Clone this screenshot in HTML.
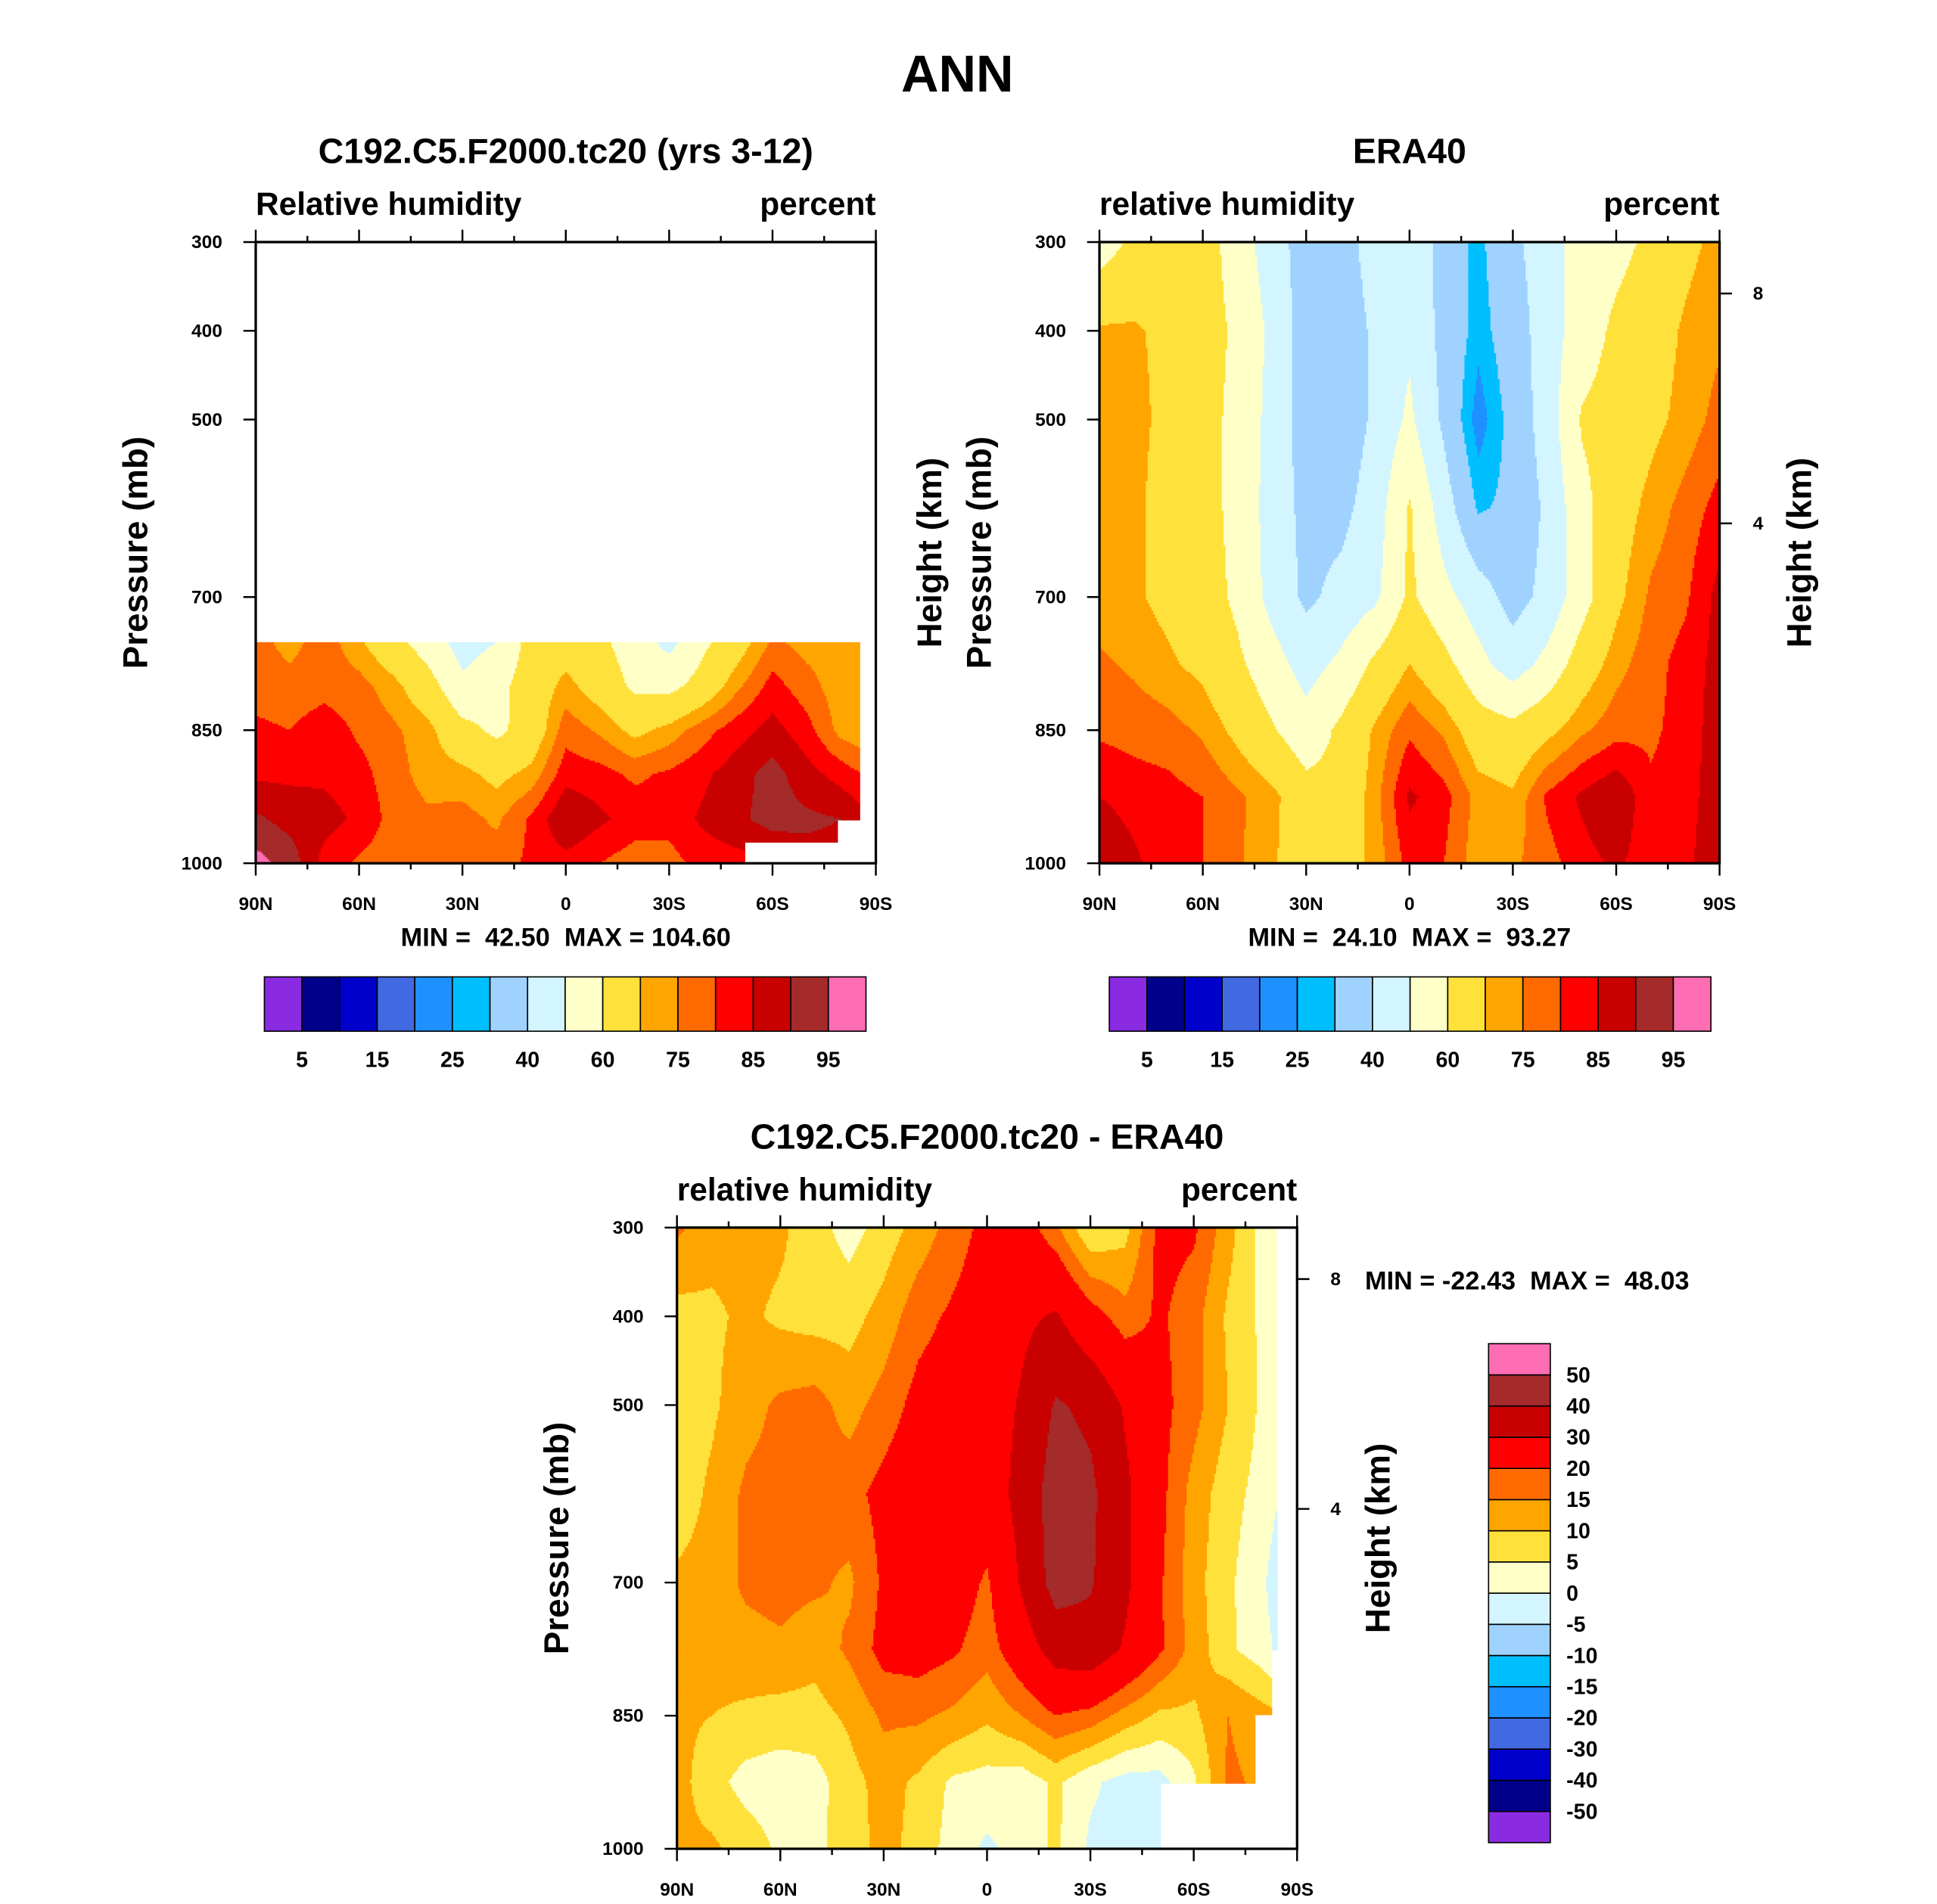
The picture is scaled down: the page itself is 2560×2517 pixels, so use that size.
<!DOCTYPE html>
<html><head><meta charset="utf-8"><style>
html,body{margin:0;padding:0;background:#fff}
svg{display:block}
text{font-family:"Liberation Sans",Arial,sans-serif;font-weight:bold;fill:#000;white-space:pre}
</style></head><body>
<svg id="fig" width="2560" height="2517" viewBox="0 0 1568 1541.7" xmlns="http://www.w3.org/2000/svg" xml:space="preserve">
<text x="775" y="74" font-size="42" text-anchor="middle">ANN</text>
<g id="p1"></g>
<g id="p2"></g>
<g id="p3"></g>
</svg>
<script>
const NS="http://www.w3.org/2000/svg";
const lats=[90,80,70,60,50,40,30,20,10,0,-10,-20,-30,-40,-50,-60,-70,-80,-90];
const xTickLabels=["90N","60N","30N","0","30S","60S","90S"];
const xTickLats=[90,60,30,0,-30,-60,-90];
const pTicks=[300,400,500,700,850,1000];
const hTicks=[8,4];
const hTickP=[358,617];
const absLevels=[5,10,15,20,25,30,40,50,60,70,75,80,85,90,95];
const absLabels=["5","15","25","40","60","75","85","95"];
const diffLevels=[-50,-40,-30,-20,-15,-10,-5,0,5,10,15,20,30,40,50];
const diffLabels=["-50","-40","-30","-20","-15","-10","-5","0","5","10","15","20","30","40","50"];
const colors=["#8a2be2","#00008b","#0000cd","#4169e1","#1e90ff","#00bfff","#a0d2ff","#d2f5ff","#ffffc8","#ffe13c","#ffa500","#ff6a00","#ff0000","#c80000","#a52a2a","#ff6eb4"];
const p1Levels=[750,800,850,900,950,1000];
const p1Vals=[
[77,73,78,71,63,55,46,50,64,66,62,55,47,58,66,76,73,73,72],
[78,77,78,77,72,64,52,57,65,72,66,58,57,64,74,82,77,72,72],
[81,80,83,79,76,72,63,58,64,78,74,68,72,78,83,87,82,73,70],
[84,84,84,82,77,73,72,68,72,83,82,79,81,84,88,92,87,83,78],
[91,88,87,84,78,76,77,74,81,90,86,83,82,86,89,92,91,90,85],
[97,93,83,79,77,76,76,78,81,83,80,77,78,82,83,85,88,88,85]];
const p2Levels=[300,400,500,600,700,775,850,925,1000];
const p2Vals=[
[55,62,65,65,55,45,35,35,45,50,35,28,38,45,55,57,62,68,72],
[71,71,68,65,58,48,35,33,42,48,37,27,35,45,55,62,66,71,74],
[72,72,68,64,57,47,35,33,42,52,38,22,33,45,61,64,68,72,77],
[73,72,66,64,57,46,37,37,45,61,45,29,32,42,57,66,72,77,82],
[72,71,68,65,58,47,38,43,48,62,53,45,36,43,56,68,76,79,87],
[76,74,71,68,62,54,46,52,62,70,63,53,45,53,65,73,78,82,87],
[79,78,77,74,68,61,54,62,71,79,74,65,63,68,74,78,79,82,88],
[85,83,82,80,76,72,64,63,73,86,82,73,71,81,86,90,81,83,88],
[90,86,82,80,76,71,65,65,72,82,80,72,74,78,83,86,82,84,88]];
const p3Levels=[300,400,500,600,700,775,850,925,1000];
const p3Vals=[
[16,12,12,11,7,3,7,12,17,22,24,16,5,8,22,21,12,3,2],
[8,9,11,9,8,8,12,18,21,24,28,31,23,17,21,17,9,4,2],
[7,9,13,16,17,13,17,22,24,25,31,41,38,29,22,17,10,4,0],
[7,11,16,17,17,18,22,25,26,25,33,45,42,32,22,13,7,3,-3],
[11,12,16,17,16,14,21,25,24,19,31,44,41,32,21,12,6,1,-8],
[12,12,13,14,12,16,22,23,21,17,25,34,36,29,21,13,6,2,-5],
[11,10,9,8,8,11,16,16,14,11,15,20,18,13,9,9,15,12,10],
[12,7,3,2,3,8,12,9,4,3,2,6,1,-2,-2,4,16,14,10],
[11,11,8,4,4,7,12,8,3,-1,2,6,-1,-2,0,3,14,14,10]];

function mk(parent,tag,attrs,txt){const e=document.createElementNS(NS,tag);for(const k in attrs)e.setAttribute(k,attrs[k]);if(txt!==undefined)e.textContent=txt;parent.appendChild(e);return e;}
function colorFor(v,levels){let i=0;while(i<levels.length&&v>=levels[i])i++;return colors[i];}

function panel(g,cfg){
  const L=cfg.x,T=cfg.y,W=502,H=503;
  const xs=lat=>L+(90-lat)/180*W;
  const ys=p=>T+(p-300)*H/700;
  const field=mk(g,'g',{});
  
  
  const step=1.5, lev=cfg.plev, vals=cfg.vals;
  for(let py=T;py<T+H;py+=step){
    const p=300+(py+step/2-T)*700/H;
    if(p<lev[0]||p>lev[lev.length-1])continue;
    let i=0;while(i<lev.length-2&&p>lev[i+1])i++;
    const fy=(p-lev[i])/(lev[i+1]-lev[i]);
    let runStart=null,runCol=null;
    const flush=(endX)=>{if(runCol){const r=mk(field,'rect',{x:runStart,y:py,width:endX-runStart+0.3,height:step+0.3,fill:runCol});}};
    for(let px=L;px<L+W;px+=step){
      const lat=90-(px+step/2-L)/W*180;
      let j=Math.min(17,Math.floor((90-lat)/10));
      const fx=((90-lat)-j*10)/10;
      let col=null;
      if(!(cfg.mask&&cfg.mask(lat,p))){
        const a=vals[i][j],b=vals[i][j+1],c=vals[i+1][j],d=vals[i+1][j+1];
        const v=a*(1-fx)*(1-fy)+b*fx*(1-fy)+c*(1-fx)*fy+d*fx*fy;
        col=colorFor(v,cfg.levels);
      }
      if(col!==runCol){flush(px);runStart=px;runCol=col;}
    }
    flush(L+W);
  }
  const fr=mk(g,'rect',{x:L,y:T,width:W,height:H,fill:'none',stroke:'#000','stroke-width':2});
  
  for(let lat=90;lat>=-90;lat-=15){
    const x=xs(lat),major=lat%30===0,len=major?10:5;
    mk(g,'line',{x1:x,y1:T+H,x2:x,y2:T+H+len,stroke:'#000','stroke-width':1.5});
    mk(g,'line',{x1:x,y1:T,x2:x,y2:T-len,stroke:'#000','stroke-width':1.5});
  }
  xTickLabels.forEach((lab,k)=>{const t=mk(g,'text',{x:xs(xTickLats[k]),y:T+H+38,'font-size':15,'text-anchor':'middle'},lab);});
  pTicks.forEach(p=>{mk(g,'line',{x1:L,y1:ys(p),x2:L-10,y2:ys(p),stroke:'#000','stroke-width':1.5});
    const t=mk(g,'text',{x:L-27,y:ys(p)+5,'font-size':15,'text-anchor':'end'},String(p));});
  if(cfg.height){hTicks.forEach((h,k)=>{const y=ys(hTickP[k]);mk(g,'line',{x1:L+W,y1:y,x2:L+W+10,y2:y,stroke:'#000','stroke-width':1.5});
    const t=mk(g,'text',{x:L+W+27,y:y+5,'font-size':15},String(h));});}
  let t;
  t=mk(g,'text',{x:L+W/2,y:T-64,'font-size':28.5,'text-anchor':'middle'},cfg.title);
  t=mk(g,'text',{x:L,y:T-22,'font-size':26},cfg.left);
  t=mk(g,'text',{x:L+W,y:T-22,'font-size':26,'text-anchor':'end'},'percent');
  const cy=T+H/2;
  t=mk(g,'text',{x:0,y:0,'font-size':28,'text-anchor':'middle',transform:`translate(${L-88},${cy}) rotate(-90)`},'Pressure (mb)');
  (cfg.hLabels||[]).forEach(hx=>{t=mk(g,'text',{x:0,y:0,'font-size':28,'text-anchor':'middle',transform:`translate(${hx},${cy}) rotate(-90)`},'Height (km)');});
  t=mk(g,'text',{x:cfg.mmx,y:cfg.mmy,'font-size':21,'text-anchor':cfg.mma},cfg.minmax);
}

function hbar(g,x0,y0){
  const w=487/16;
  colors.forEach((c,k)=>{const r=mk(g,'rect',{x:x0+k*w,y:y0,width:w,height:44,fill:c,stroke:'#000','stroke-width':1});});
  absLabels.forEach((l,k)=>{const t=mk(g,'text',{x:x0+(2*k+1)*w,y:y0+73,'font-size':17.5,'text-anchor':'middle'},l);});
}
function vbar(g,x0,y0){
  const h=404/16;
  colors.forEach((c,k)=>{const r=mk(g,'rect',{x:x0,y:y0+(15-k)*h,width:50,height:h,fill:c,stroke:'#000','stroke-width':1});});
  diffLabels.forEach((l,k)=>{const t=mk(g,'text',{x:x0+63,y:y0+(15-k)*h+6,'font-size':17.5},l);});
}

const g1=document.getElementById('p1'),g2=document.getElementById('p2'),g3=document.getElementById('p3');
panel(g1,{x:207,y:196,plev:p1Levels,vals:p1Vals,levels:absLevels,title:'C192.C5.F2000.tc20 (yrs 3-12)',left:'Relative humidity',height:false,
  mask:(lat,p)=>lat<-85.6||(lat<-52&&p>977)||(lat<-79&&p>952),
  minmax:'MIN =  42.50  MAX = 104.60',mmx:458,mmy:766,mma:'middle'});
hbar(g1,214,791);
panel(g2,{x:890,y:196,plev:p2Levels,vals:p2Vals,levels:absLevels,title:'ERA40',left:'relative humidity',height:true,hLabels:[762,1466],minmax:'MIN =  24.10  MAX =  93.27',mmx:1141,mmy:766,mma:'middle'});
hbar(g2,898,791);
panel(g3,{x:548,y:994,plev:p3Levels,vals:p3Vals,levels:diffLevels,title:'C192.C5.F2000.tc20 - ERA40',left:'relative humidity',height:true,hLabels:[1125],
  mask:(lat,p)=>lat<-84.5||(lat<-50.3&&p>926)||(lat<-77.6&&p>850)||(lat<-82.7&&p>775),
  minmax:'MIN = -22.43  MAX =  48.03',mmx:1105,mmy:1044,mma:'start'});
vbar(g3,1205,1088);
</script>
</body></html>
